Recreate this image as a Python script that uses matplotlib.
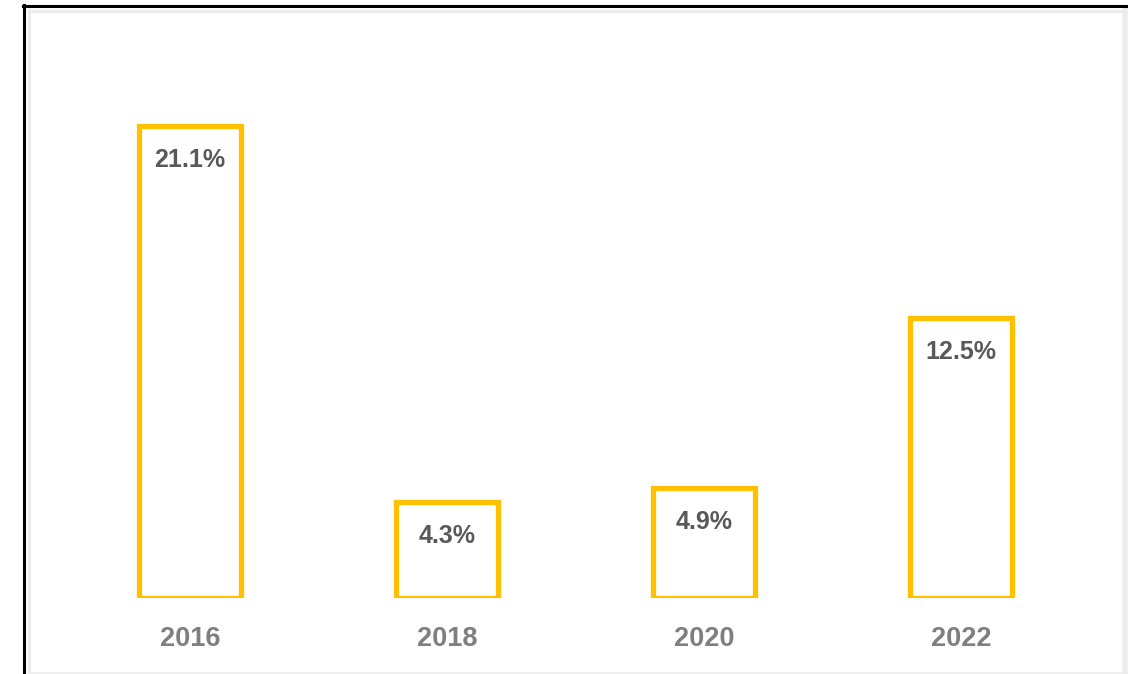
import matplotlib.pyplot as plt
from matplotlib.lines import Line2D

# donnees
years = ['2016', '2018', '2020', '2022']
values = [21.1, 4.3, 4.9, 12.5]
labels = ['21.1%', '4.3%', '4.9%', '12.5%']

W, H = 1128, 674
fig = plt.figure(figsize=(W / 100, H / 100), dpi=100)
plt.rcParams['font.family'] = ['Liberation Sans', 'DejaVu Sans']

# cadre (pixels -> fraction)
def fx(px):
    return px / W

def fy(py):
    return 1 - py / H

fig.add_artist(Line2D([fx(29), fx(29)], [fy(10), fy(674)], color='#ececec', lw=2.2))
fig.add_artist(Line2D([fx(29), fx(1128)], [fy(10.5), fy(10.5)], color='#ececec', lw=2.2))
fig.add_artist(Line2D([fx(1125), fx(1125)], [fy(10), fy(674)], color='#ececec', lw=4))
fig.add_artist(Line2D([fx(29), fx(1128)], [fy(672.5), fy(672.5)], color='#ececec', lw=1.2))
fig.add_artist(Line2D([fx(23.5), fx(23.5)], [fy(4.5), fy(674)], color='black', lw=2.2))
fig.add_artist(Line2D([fx(22.5), fx(1128)], [fy(5.5), fy(5.5)], color='black', lw=2.2))

ax = fig.add_axes([0, 76 / H, 1, 598 / H])
ax.patch.set_alpha(0)
x = range(len(years))
ax.bar(x, values, width=0.4, facecolor='white', edgecolor='#FFC000', linewidth=3.8)

for i, v in enumerate(values):
    ax.annotate(labels[i], (i, v), xytext=(0, -24.5), textcoords='offset points',
                ha='center', va='center', fontsize=18, fontweight='bold', color='#595959')

ax.set_xlim(-190 / 257, (W - 190) / 257)
ax.set_ylim(0, 598 / 22.37)
ax.set_xticks(list(x))
ax.set_xticklabels(years, fontsize=19.5, fontweight='bold', color='#7f7f7f')
ax.tick_params(axis='x', length=0, pad=20)
ax.set_yticks([])
for s in ax.spines.values():
    s.set_visible(False)

fig.savefig('out.png', dpi=100)
